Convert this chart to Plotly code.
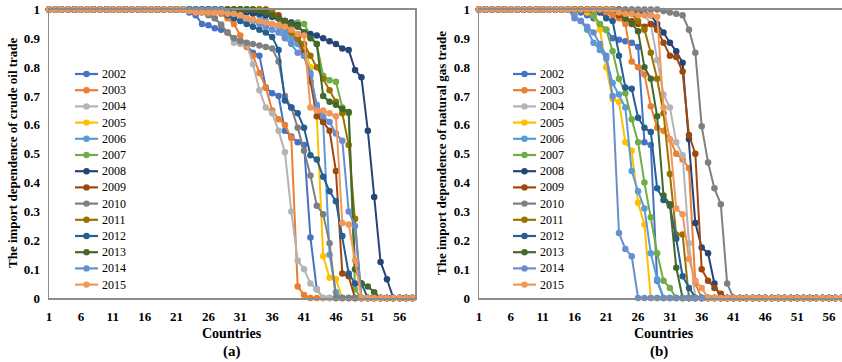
import plotly.graph_objects as go

N_COUNTRIES = 58
countries = list(range(1, N_COUNTRIES + 1))
x_ticks = [1, 6, 11, 16, 21, 26, 31, 36, 41, 46, 51, 56]
years = [2002, 2003, 2004, 2005, 2006, 2007, 2008, 2009, 2010, 2011, 2012, 2013, 2014, 2015]
colors = ["#4472C4", "#ED7D31", "#B4B4B4", "#FFC000", "#5B9BD5", "#70AD47", "#264478",
          "#9E480E", "#7F7F7F", "#997300", "#255E91", "#43682B", "#698ED0", "#F1975A"]

# Each series: values equal 1 before `start`, then the read values, then 0 to the end.
# (a) crude oil trade: (start country)
oil_2002 = (23, [0.99, 0.98, 0.95, 0.945, 0.935, 0.93, 0.92, 0.90, 0.89, 0.875, 0.85, 0.84, 0.73, 0.71, 0.70, 0.58, 0.56, 0.54, 0.53, 0.21, 0.03])
oil_2003 = (27, [0.995, 0.985, 0.97, 0.95, 0.91, 0.87, 0.84, 0.78, 0.73, 0.65, 0.62, 0.60, 0.555, 0.04, 0.01])
oil_2004 = (26, [0.99, 0.97, 0.95, 0.92, 0.885, 0.88, 0.88, 0.81, 0.72, 0.66, 0.64, 0.58, 0.505, 0.30, 0.13, 0.10, 0.05, 0.03])
oil_2005 = (36, [0.99, 0.97, 0.95, 0.92, 0.90, 0.865, 0.80, 0.63, 0.145, 0.07, 0.065])
oil_2006 = (33, [0.99, 0.98, 0.96, 0.95, 0.94, 0.92, 0.90, 0.88, 0.84, 0.77, 0.67, 0.61, 0.15, 0.02])
oil_2007 = (33, [0.995, 0.99, 0.985, 0.975, 0.97, 0.96, 0.955, 0.955, 0.95, 0.91, 0.88, 0.77, 0.755, 0.75, 0.66, 0.64, 0.03])
oil_2008 = (30, [0.995, 0.99, 0.99, 0.985, 0.985, 0.98, 0.975, 0.97, 0.96, 0.955, 0.945, 0.92, 0.915, 0.91, 0.90, 0.89, 0.88, 0.865, 0.86, 0.79, 0.765, 0.58, 0.35, 0.125, 0.065])
oil_2009 = (36, [0.99, 0.98, 0.96, 0.94, 0.90, 0.85, 0.75, 0.63, 0.61, 0.58, 0.44, 0.085, 0.075])
oil_2010 = (24, [0.995, 0.99, 0.98, 0.97, 0.945, 0.92, 0.90, 0.89, 0.885, 0.88, 0.875, 0.87, 0.865, 0.82, 0.70, 0.66, 0.59, 0.51, 0.425, 0.32, 0.29, 0.19])
oil_2011 = (35, [0.995, 0.99, 0.97, 0.94, 0.92, 0.90, 0.88, 0.84, 0.80, 0.76, 0.72, 0.68, 0.64, 0.53, 0.275])
oil_2012 = (27, [0.995, 0.99, 0.98, 0.97, 0.96, 0.95, 0.94, 0.93, 0.92, 0.905, 0.86, 0.685, 0.66, 0.64, 0.59, 0.495, 0.48, 0.42, 0.37, 0.335, 0.215, 0.085, 0.05, 0.05])
oil_2013 = (34, [0.995, 0.99, 0.98, 0.97, 0.96, 0.95, 0.94, 0.92, 0.90, 0.88, 0.70, 0.68, 0.67, 0.655, 0.645, 0.10, 0.05, 0.04, 0.02])
oil_2014 = (29, [0.99, 0.985, 0.98, 0.97, 0.96, 0.95, 0.94, 0.93, 0.92, 0.90, 0.88, 0.85, 0.84, 0.78, 0.66, 0.63, 0.61, 0.57, 0.545, 0.30, 0.25])
oil_2015 = (23, [0.995, 0.99, 0.99, 0.99, 0.99, 0.99, 0.985, 0.985, 0.98, 0.97, 0.965, 0.96, 0.955, 0.95, 0.945, 0.94, 0.93, 0.915, 0.91, 0.66, 0.65, 0.65, 0.64, 0.63, 0.26, 0.255, 0.13])

# (b) natural gas trade
gas_2002 = (17, [0.99, 0.98, 0.97, 0.95, 0.93, 0.90, 0.895, 0.89, 0.885, 0.87, 0.54, 0.53, 0.06])
gas_2003 = (21, [0.99, 0.98, 0.97, 0.95, 0.82, 0.80, 0.775, 0.665, 0.59, 0.58, 0.55, 0.50, 0.48, 0.45, 0.05])
gas_2004 = (26, [0.99, 0.98, 0.95, 0.825, 0.705, 0.66, 0.54, 0.495, 0.19])
gas_2005 = (18, [0.99, 0.98, 0.93, 0.80, 0.69, 0.68, 0.54, 0.51, 0.33, 0.255])
gas_2006 = (16, [0.98, 0.96, 0.93, 0.885, 0.86, 0.83, 0.745, 0.705, 0.66, 0.44, 0.37, 0.31, 0.155, 0.065])
gas_2007 = (19, [0.98, 0.95, 0.93, 0.855, 0.76, 0.71, 0.62, 0.54, 0.40, 0.28, 0.155, 0.06, 0.035])
gas_2008 = (24, [0.995, 0.99, 0.99, 0.985, 0.98, 0.95, 0.92, 0.885, 0.855, 0.815, 0.55, 0.26, 0.175, 0.155, 0.05])
gas_2009 = (23, [0.98, 0.97, 0.96, 0.95, 0.94, 0.95, 0.93, 0.885, 0.84, 0.835, 0.785, 0.565, 0.50, 0.10, 0.06, 0.035, 0.015])
gas_2010 = (30, [0.995, 0.99, 0.985, 0.98, 0.93, 0.85, 0.595, 0.47, 0.38, 0.325, 0.05])
gas_2011 = (23, [0.995, 0.99, 0.985, 0.96, 0.93, 0.85, 0.76, 0.64, 0.43, 0.22, 0.22])
gas_2012 = (20, [0.99, 0.97, 0.96, 0.84, 0.73, 0.725, 0.625, 0.59, 0.575, 0.38, 0.34, 0.32, 0.205, 0.075, 0.035])
gas_2013 = (23, [0.99, 0.97, 0.95, 0.925, 0.80, 0.76, 0.63, 0.355, 0.325, 0.105])
gas_2014 = (16, [0.97, 0.96, 0.94, 0.92, 0.88, 0.84, 0.70, 0.225, 0.17, 0.145])
gas_2015 = (23, [0.99, 0.985, 0.985, 0.98, 0.98, 0.98, 0.975, 0.66, 0.55, 0.31, 0.29, 0.135, 0.06, 0.035])

oil_series = [oil_2002, oil_2003, oil_2004, oil_2005, oil_2006, oil_2007, oil_2008,
              oil_2009, oil_2010, oil_2011, oil_2012, oil_2013, oil_2014, oil_2015]
gas_series = [gas_2002, gas_2003, gas_2004, gas_2005, gas_2006, gas_2007, gas_2008,
              gas_2009, gas_2010, gas_2011, gas_2012, gas_2013, gas_2014, gas_2015]


def full_series(spec):
    start, vals = spec
    out = [1.0] * (start - 1) + list(vals)
    return out + [0.0] * (N_COUNTRIES - len(out))


W, H = 842, 362
SERIF = "Liberation Serif"
fig = go.Figure()

for yr, col, spec in zip(years, colors, oil_series):
    fig.add_trace(go.Scatter(
        x=countries, y=full_series(spec), name=str(yr), mode="lines+markers",
        line=dict(color=col, width=2), marker=dict(color=col, size=6.5),
        cliponaxis=False, xaxis="x", yaxis="y", showlegend=False))

for yr, col, spec in zip(years, colors, gas_series):
    fig.add_trace(go.Scatter(
        x=countries, y=full_series(spec), name=str(yr), mode="lines+markers",
        line=dict(color=col, width=2), marker=dict(color=col, size=6.5),
        cliponaxis=False, xaxis="x2", yaxis="y2", showlegend=False))

tickfont = dict(family=SERIF, size=13, color="#000000", weight="bold")
axis_line = dict(showline=True, linecolor="#8c8c8c", linewidth=1.5, showgrid=False,
                 zeroline=False, ticks="", automargin=False)

ydom = [1 - 298 / H, 1 - 9.5 / H]
fig.update_layout(
    template="none",
    width=W, height=H,
    margin=dict(l=0, r=0, t=0, b=0),
    paper_bgcolor="white", plot_bgcolor="white",
    xaxis=dict(domain=[49 / W, 415 / W], range=[1, 58.4], anchor="y",
               tickmode="array", tickvals=x_ticks, tickfont=tickfont,
               mirror=True, ticklabelstandoff=6, **axis_line),
    yaxis=dict(domain=ydom, range=[0, 1], anchor="x", dtick=0.1, tick0=0,
               tickfont=tickfont, mirror=True, ticklabelstandoff=5, **axis_line),
    xaxis2=dict(domain=[479 / W, 1.0], range=[1, 58.05], anchor="y2",
                tickmode="array", tickvals=x_ticks, tickfont=tickfont,
                mirror=True, ticklabelstandoff=6, **axis_line),
    yaxis2=dict(domain=ydom, range=[0, 1], anchor="x2", dtick=0.1, tick0=0,
                tickfont=tickfont, mirror=False, ticklabelstandoff=5, **axis_line),
    showlegend=False,
    hovermode=False,
)

title_font = dict(family=SERIF, size=13, color="#000", weight="bold")
ann = [
    dict(text="The import dependence of crude oil trade", x=12 / W, y=1 - 153 / H,
         textangle=-90, font=title_font),
    dict(text="The import dependence of natural gas trade", x=441 / W, y=1 - 153 / H,
         textangle=-90, font=title_font),
    dict(text="Countries", x=232 / W, y=1 - 333 / H, font=dict(family=SERIF, size=14, color="#000", weight="bold")),
    dict(text="(a)", x=232 / W, y=1 - 351 / H, font=dict(family=SERIF, size=15, color="#000", weight="bold")),
    dict(text="Countries", x=664 / W, y=1 - 333 / H, font=dict(family=SERIF, size=14, color="#000", weight="bold")),
    dict(text="(b)", x=659 / W, y=1 - 351 / H, font=dict(family=SERIF, size=15, color="#000", weight="bold")),
]
for a in ann:
    a.update(xref="paper", yref="paper", showarrow=False, xanchor="center", yanchor="middle")

# Legends (one per panel), compact vertical list as in the original figure
shapes = []
legend_specs = [(75, 98, 100), (513, 536, 538)]
for (lx0, lx1, tx) in legend_specs:
    for i, (yr, col) in enumerate(zip(years, colors)):
        yp = 74 + i * 16.2
        yy = 1 - yp / H
        shapes.append(dict(type="line", xref="paper", yref="paper",
                           x0=lx0 / W, x1=lx1 / W, y0=yy, y1=yy,
                           line=dict(color=col, width=2.2)))
        cx = (lx0 + lx1) / 2
        r = 3.2
        shapes.append(dict(type="circle", xref="paper", yref="paper",
                           x0=(cx - r) / W, x1=(cx + r) / W, y0=yy - r / H, y1=yy + r / H,
                           fillcolor=col, line=dict(width=0)))
        ann.append(dict(text=str(yr), x=tx / W, y=yy, xref="paper", yref="paper",
                        showarrow=False, xanchor="left", yanchor="middle",
                        font=dict(family=SERIF, size=12, color="#000")))

fig.update_layout(annotations=ann, shapes=shapes)

fig.write_html("out.html",
               config={"displayModeBar": False, "staticPlot": True},
               post_script="document.body.style.margin='0px';document.body.style.overflow='hidden';")
